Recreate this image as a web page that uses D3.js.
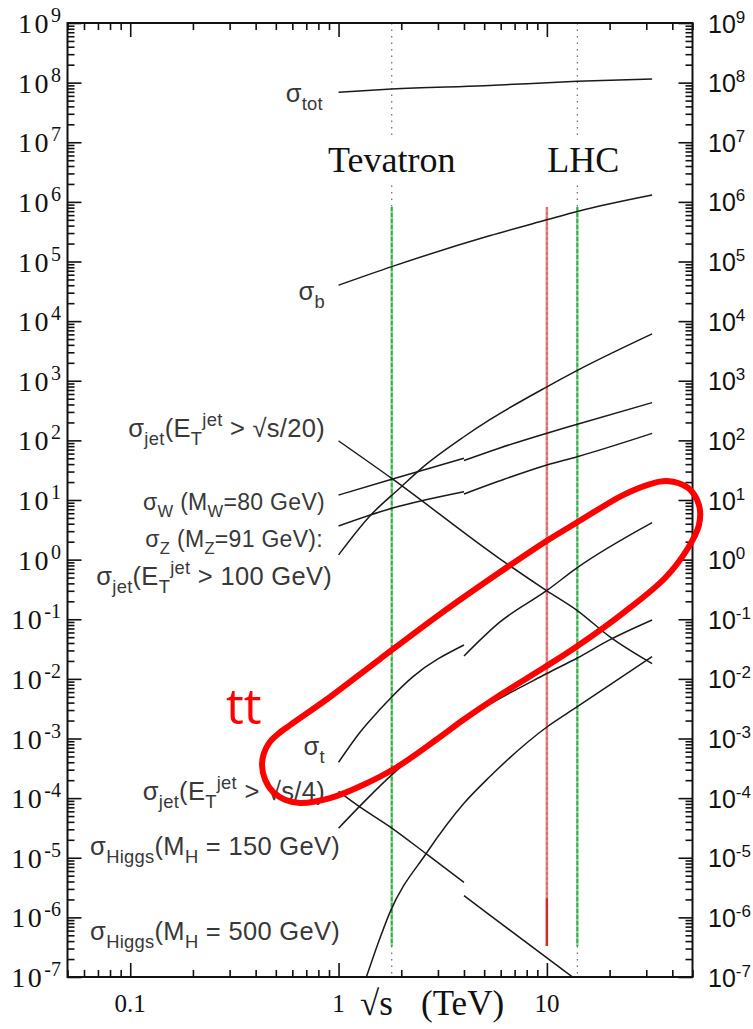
<!DOCTYPE html>
<html>
<head>
<meta charset="utf-8">
<script src="https://cdn.jsdelivr.net/npm/d3@7"></script>
<style>
  body { margin: 0; background: #fff; }
  svg { display: block; }
  text { white-space: pre; }
</style>
</head>
<body>
<script>
const width = 753;
const height = 1029;

// cross sections in nb versus sqrt(s) in TeV
// ppbar part below 4 TeV, pp part above (the curves jump at 4 TeV)
const sigmaTot = [[1, 6.9e7], [1.8, 7.8e7], [5, 8.9e7], [14, 1.05e8], [32, 1.15e8]];
const sigmaB = [[1, 4.0e4], [1.8, 8.2e4], [5.3, 2.7e5], [10, 5.0e5], [14, 6.9e5], [32, 1.3e6]];
const jetS20 = [[1, 98], [1.8, 23], [5.9, 1.05], [10, 0.30], [14, 0.14], [20, 0.051], [32, 0.018]];
const jet100 = [[1, 1.2], [1.4, 5.2], [2, 16.7], [2.5, 34], [4, 115], [5.3, 220], [10, 790], [14, 1490], [32, 6100]];
const sigmaWppbar = [[1, 12.1], [1.8, 22.3], [4, 50]];
const sigmaWpp = [[4, 46], [5.9, 74], [10, 132], [14, 186], [32, 430]];
const sigmaZppbar = [[1, 3.67], [1.8, 7.27], [4, 13.8]];
const sigmaZpp = [[4, 12.6], [5.9, 20.8], [10, 38.7], [14, 53.3], [32, 131]];
const sigmaTppbar = [[1, 4.0e-4], [1.26, 1.24e-3], [1.57, 3.0e-3], [1.8, 4.98e-3], [2.27, 0.0108], [4, 0.037]];
const sigmaTpp = [[4, 0.0242], [5.9, 0.0877], [10, 0.304], [14, 0.733], [32, 4.17]];
const jetS4ppbar = [[1, 1.3e-4], [1.26, 7.2e-5], [1.76, 3.33e-5], [2.64, 1.16e-5], [4, 3.86e-6]];
const jetS4pp = [[4, 2.32e-6], [5.3, 1.1e-6], [14, 8.7e-8]];
const higgs150 = [[1, 3.13e-5], [1.4, 1.05e-4], [1.8, 2.45e-4], [4, 2.05e-3], [10, 0.0123], [14, 0.0224], [20, 0.045], [32, 0.097]];
const higgs500 = [[1.29, 5.9e-8], [1.36, 1.0e-7], [1.57, 4.2e-7], [1.76, 1.19e-6], [2.64, 1.19e-5], [4, 8.2e-5], [5.3, 2.26e-4], [10, 1.56e-3], [14, 3.42e-3], [32, 0.0236]];

// colliders
const tevatron = 1.8, lhc = 14, lhc10 = 10;
const bandTop = 8.2e5, bandBottom = 3.3e-7, redDark = 2.1e-6;

// tick values
const xMajor = [0.1, 1, 10];
const xLabels = ["0.1", "1", "10"];
const yExponents = d3.range(-7, 10);

// hand drawn highlight round the top quark curve, in data units
const highlight = [[0.4292, 3.6e-4], [0.4383, 5.66e-4], [0.4668, 8.67e-4], [0.5076, 1.16e-3], [0.585, 1.68e-3],
  [0.91, 4.97e-3], [1.58, 0.0215], [3.07, 0.122], [5.96, 0.619], [9.79, 1.98], [13.8, 4.11], [23.2, 12.1],
  [31.3, 18.5], [37.7, 20.8], [47.6, 15.9], [53.7, 8.24], [53.7, 3.81], [47.6, 1.57], [36.9, 0.492],
  [23.2, 0.127], [13.8, 0.0343], [9.79, 0.0158], [5.96, 5.37e-3], [3.96, 2.04e-3], [3.07, 1.06e-3],
  [1.91, 3.33e-4], [1.31, 1.66e-4], [0.91, 1.0e-4], [0.653, 8.28e-5], [0.5569, 9.31e-5], [0.4846, 1.27e-4],
  [0.4436, 2.06e-4]];

const x = d3.scaleLog().domain([0.05, 50]).range([67.5, 692.5]);
const y = d3.scaleLog().domain([1e-7, 1e9]).range([977, 23]);

const svg = d3.select("body").append("svg")
  .attr("width", width)
  .attr("height", height);

svg.append("defs").append("clipPath").attr("id", "plot")
  .append("rect")
  .attr("x", x(0.05)).attr("y", y(1e9))
  .attr("width", x(50) - x(0.05)).attr("height", y(1e-7) - y(1e9));

// minor ticks
const xMinor = [];
[-2, -1, 0, 1].forEach(e => d3.range(2, 10).forEach(m => {
  const v = m * Math.pow(10, e);
  if (v > 0.0499 && v < 50.01) xMinor.push(v);
}));
const yMinor = [];
yExponents.slice(0, -1).forEach(e => d3.range(2, 10).forEach(m => yMinor.push(m * Math.pow(10, e))));

function styleAxis(g) {
  g.select(".domain").remove();
  g.selectAll("line").attr("stroke", "#111").attr("stroke-width", 1.6);
}

const axes = [
  [d3.axisRight, `translate(${x(0.05)},0)`, y, yExponents.map(e => Math.pow(10, e)), yMinor],
  [d3.axisLeft, `translate(${x(50)},0)`, y, yExponents.map(e => Math.pow(10, e)), yMinor],
  [d3.axisTop, `translate(0,${y(1e-7)})`, x, xMajor, xMinor],
  [d3.axisBottom, `translate(0,${y(1e9)})`, x, xMajor, xMinor]
];
axes.forEach(([axisFn, tr, scale, major, minor]) => {
  svg.append("g").attr("transform", tr)
    .call(axisFn(scale).tickValues(minor).tickSize(7).tickSizeOuter(0).tickFormat(""))
    .call(styleAxis);
  svg.append("g").attr("transform", tr)
    .call(axisFn(scale).tickValues(major).tickSize(14).tickSizeOuter(0).tickFormat(""))
    .call(styleAxis);
});

// dotted guides at the collider energies
[tevatron, lhc].forEach(rs => {
  svg.append("line")
    .attr("x1", x(rs)).attr("x2", x(rs))
    .attr("y1", y(1e9)).attr("y2", y(1e-7))
    .attr("stroke", "#666").attr("stroke-width", 1.2)
    .attr("stroke-dasharray", "1.5,5");
});

// collider names, with a white box that breaks the dotted guides
const names = svg.append("g")
  .attr("font-family", "'Liberation Serif', 'Times New Roman', serif")
  .attr("font-size", 36).attr("fill", "#111");
[["Tevatron", x(tevatron)], ["LHC", x(lhc) + 6]].forEach(([name, cx]) => {
  const t = names.append("text").attr("x", cx).attr("y", 172).attr("text-anchor", "middle").text(name);
  const bb = t.node().getBBox();
  names.insert("rect", "text")
    .attr("x", bb.x - 2).attr("y", 140)
    .attr("width", bb.width + 4).attr("height", 45)
    .attr("fill", "#fff");
});

// collider bands: a pale line under a dashed coloured one
[tevatron, lhc].forEach(rs => {
  svg.append("line")
    .attr("x1", x(rs)).attr("x2", x(rs))
    .attr("y1", y(bandTop)).attr("y2", y(bandBottom))
    .attr("stroke", "#8fcf98").attr("stroke-width", 2.4);
  svg.append("line")
    .attr("x1", x(rs)).attr("x2", x(rs))
    .attr("y1", y(bandTop)).attr("y2", y(bandBottom))
    .attr("stroke", "#2fae4a").attr("stroke-width", 1.8)
    .attr("stroke-dasharray", "4,2");
});
svg.append("line")
  .attr("x1", x(lhc10)).attr("x2", x(lhc10))
  .attr("y1", y(bandTop)).attr("y2", y(bandBottom))
  .attr("stroke", "#e58a8a").attr("stroke-width", 2.6);
svg.append("line")
  .attr("x1", x(lhc10)).attr("x2", x(lhc10))
  .attr("y1", y(bandTop)).attr("y2", y(bandBottom))
  .attr("stroke", "#d85a5a").attr("stroke-width", 1.2)
  .attr("stroke-dasharray", "3,2");
svg.append("line")
  .attr("x1", x(lhc10)).attr("x2", x(lhc10))
  .attr("y1", y(redDark)).attr("y2", y(bandBottom))
  .attr("stroke", "#d42a2a").attr("stroke-width", 2.2);

// cross section curves
const line = d3.line()
  .x(d => x(d[0]))
  .y(d => y(d[1]))
  .curve(d3.curveMonotoneX);

const curves = [sigmaTot, sigmaB, jetS20, jet100, sigmaWppbar, sigmaWpp, sigmaZppbar, sigmaZpp,
  sigmaTppbar, sigmaTpp, jetS4ppbar, jetS4pp, higgs150, higgs500];

svg.append("g")
  .attr("clip-path", "url(#plot)")
  .selectAll("path")
  .data(curves)
  .enter()
  .append("path")
  .attr("d", line)
  .attr("fill", "none")
  .attr("stroke", "#1a1a1a")
  .attr("stroke-width", 1.5);

// frame
svg.append("rect")
  .attr("x", x(0.05)).attr("y", y(1e9))
  .attr("width", x(50) - x(0.05)).attr("height", y(1e-7) - y(1e9))
  .attr("fill", "none").attr("stroke", "#111").attr("stroke-width", 2);

// curve labels
function label(parts, xEnd, yBase, size = 25.5) {
  const t = svg.append("text")
    .attr("x", xEnd).attr("y", yBase)
    .attr("text-anchor", "end")
    .attr("font-family", "'Liberation Sans', Arial, sans-serif")
    .attr("font-size", size)
    .attr("letter-spacing", 0.3)
    .attr("fill", "#383838");
  let shift = 0;
  parts.forEach(([txt, pos]) => {
    const target = pos === "sub" ? size * 0.32 : pos === "sup" ? -size * 0.45 : 0;
    t.append("tspan")
      .attr("dy", target - shift)
      .attr("font-size", pos ? size * 0.72 : size)
      .text(txt);
    shift = target;
  });
}
label([["σ"], ["tot", "sub"]], 323, 102);
label([["σ"], ["b", "sub"]], 325, 300);
label([["σ"], ["jet", "sub"], ["(E"], ["T", "sub"], ["jet", "sup"], [" > √s/20)"]], 325, 437);
label([["σ"], ["W", "sub"], [" (M"], ["W", "sub"], ["=80 GeV)"]], 325, 510, 23);
label([["σ"], ["Z", "sub"], [" (M"], ["Z", "sub"], ["=91 GeV):"]], 323, 547, 23);
label([["σ"], ["jet", "sub"], ["(E"], ["T", "sub"], ["jet", "sup"], [" > 100 GeV)"]], 332, 585);
label([["σ"], ["t", "sub"]], 325, 755);
label([["σ"], ["jet", "sub"], ["(E"], ["T", "sub"], ["jet", "sup"], [" > √s/4)"]], 325, 800);
label([["σ"], ["Higgs", "sub"], ["(M"], ["H", "sub"], [" = 150 GeV)"]], 340, 855);
label([["σ"], ["Higgs", "sub"], ["(M"], ["H", "sub"], [" = 500 GeV)"]], 340, 940);

// y tick labels, serif on the left and sans on the right
yExponents.forEach(e => {
  const ty = y(Math.pow(10, e)) + 10;
  const left = svg.append("text")
    .attr("x", 61).attr("y", ty).attr("text-anchor", "end")
    .attr("font-family", "'Liberation Serif', 'Times New Roman', serif")
    .attr("font-size", 28).attr("fill", "#111");
  left.append("tspan").attr("letter-spacing", 2.5).text("10");
  left.append("tspan").attr("dy", -11).attr("font-size", 20).text(e);

  const right = svg.append("text")
    .attr("x", 708).attr("y", ty - 0.5)
    .attr("font-family", "'Liberation Sans', Arial, sans-serif")
    .attr("font-size", 25).attr("fill", "#111");
  right.append("tspan").text("10");
  right.append("tspan").attr("dy", -10).attr("font-size", 17).text(e);
});

// x tick labels
svg.append("g")
  .attr("font-family", "'Liberation Serif', 'Times New Roman', serif")
  .attr("font-size", 25).attr("fill", "#111")
  .selectAll("text")
  .data(xMajor)
  .enter()
  .append("text")
  .attr("x", d => x(d))
  .attr("y", 1012)
  .attr("text-anchor", "middle")
  .text((d, i) => xLabels[i]);

// axis title
const title = svg.append("text")
  .attr("x", 360).attr("y", 1015)
  .attr("font-family", "'Liberation Serif', 'Times New Roman', serif")
  .attr("font-size", 35).attr("fill", "#111");
title.append("tspan").text("√s");
title.append("tspan").attr("x", 421).text("(TeV)");

// red highlight and note
svg.append("path")
  .datum(highlight)
  .attr("d", d3.line().x(d => x(d[0])).y(d => y(d[1])).curve(d3.curveCatmullRomClosed))
  .attr("fill", "none")
  .attr("stroke", "#ff0000")
  .attr("stroke-width", 6);

svg.append("text")
  .attr("x", 226).attr("y", 724)
  .attr("font-family", "'Open Sans', sans-serif")
  .attr("font-size", 50).attr("fill", "#ff0000")
  .text("tt");
</script>
</body>
</html>
